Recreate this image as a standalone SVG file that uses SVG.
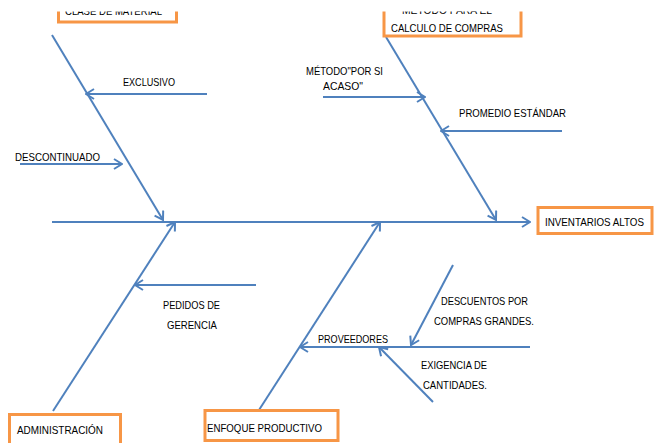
<svg xmlns="http://www.w3.org/2000/svg" width="655" height="443" viewBox="0 0 655 443">
  <style>
    .bone { stroke: #4F81BD; stroke-width: 2; fill: none; }
    .arrow { marker-end: url(#head); }
    .box { fill: #FFFFFF; stroke: #F79646; stroke-width: 3; }
    .lbl { font-family: "Liberation Sans", Arial, sans-serif; font-size: 11.5px; fill: #000000; }
  </style>
  <defs>
    <marker id="head" viewBox="0 0 10 12" markerWidth="10" markerHeight="12" refX="9" refY="6" orient="auto" markerUnits="userSpaceOnUse">
      <path d="M1,1 L9,6 L1,11" fill="none" stroke="#4F81BD" stroke-width="2"/>
    </marker>
  </defs>
  <rect width="655" height="443" fill="#FFFFFF"/>

  <g id="connectors">
    <!-- spine -->
    <line class="bone arrow" x1="52" y1="222" x2="530" y2="222"/>
    <!-- main bones -->
    <line class="bone arrow" x1="52" y1="35" x2="163" y2="220"/>
    <line class="bone arrow" x1="386" y1="37" x2="496" y2="220"/>
    <line class="bone arrow" x1="53" y1="411" x2="175" y2="222"/>
    <line class="bone arrow" x1="259" y1="410" x2="380" y2="222"/>
    <!-- sub-causes -->
    <line class="bone arrow" x1="207" y1="94" x2="86" y2="94"/>
    <line class="bone arrow" x1="20" y1="164" x2="122" y2="164"/>
    <line class="bone arrow" x1="323" y1="97" x2="425" y2="97"/>
    <line class="bone arrow" x1="562" y1="131" x2="441" y2="131"/>
    <line class="bone arrow" x1="256" y1="285" x2="135" y2="285"/>
    <line class="bone arrow" x1="530" y1="347" x2="300" y2="347"/>
    <line class="bone arrow" x1="453" y1="265" x2="411" y2="345"/>
    <line class="bone arrow" x1="433" y1="402" x2="379" y2="347"/>
  </g>

  <g id="clase-material">
    <rect class="box" x="58.5" y="-10" width="118" height="32"/>
    <text class="lbl" x="65" y="14.5" textLength="97" lengthAdjust="spacingAndGlyphs">CLASE DE MATERIAL</text>
  </g>
  <g id="metodo-calculo">
    <rect class="box" x="384" y="-10" width="137" height="46"/>
    <text class="lbl" x="402" y="13.5" textLength="90" lengthAdjust="spacingAndGlyphs">MÉTODO PARA EL</text>
    <text class="lbl" x="391" y="31.5" textLength="112" lengthAdjust="spacingAndGlyphs">CALCULO DE COMPRAS</text>
  </g>
  <!-- top edge of the sheet -->
  <rect x="0" y="0" width="655" height="11.5" fill="#FFFFFF"/>

  <g id="inventarios-altos">
    <rect class="box" x="538" y="207.5" width="114" height="26"/>
    <text class="lbl" x="545" y="226" style="font-size:10.5px" textLength="99" lengthAdjust="spacingAndGlyphs">INVENTARIOS ALTOS</text>
  </g>
  <g id="administracion">
    <rect class="box" x="9.5" y="414.5" width="111" height="40"/>
    <text class="lbl" x="17" y="434" textLength="86" lengthAdjust="spacingAndGlyphs">ADMINISTRACIÓN</text>
  </g>
  <g id="enfoque-productivo">
    <rect class="box" x="205" y="410.5" width="133" height="30"/>
    <text class="lbl" x="207" y="431.5" textLength="115" lengthAdjust="spacingAndGlyphs">ENFOQUE PRODUCTIVO</text>
  </g>

  <g id="exclusivo">
    <text class="lbl" x="123" y="86" textLength="52" lengthAdjust="spacingAndGlyphs">EXCLUSIVO</text>
  </g>
  <g id="descontinuado">
    <text class="lbl" x="15" y="161" textLength="85" lengthAdjust="spacingAndGlyphs">DESCONTINUADO</text>
  </g>
  <g id="metodo-por-si-acaso">
    <text class="lbl" x="306" y="75" textLength="77" lengthAdjust="spacingAndGlyphs">MÉTODO"POR SI</text>
    <text class="lbl" x="323" y="90" textLength="40" lengthAdjust="spacingAndGlyphs">ACASO"</text>
  </g>
  <g id="promedio-estandar">
    <text class="lbl" x="459" y="117" textLength="107" lengthAdjust="spacingAndGlyphs">PROMEDIO ESTÁNDAR</text>
  </g>
  <g id="pedidos-gerencia">
    <text class="lbl" x="163" y="309" textLength="57" lengthAdjust="spacingAndGlyphs">PEDIDOS DE</text>
    <text class="lbl" x="167" y="329" textLength="50" lengthAdjust="spacingAndGlyphs">GERENCIA</text>
  </g>
  <g id="proveedores">
    <text class="lbl" x="318" y="342.5" textLength="70" lengthAdjust="spacingAndGlyphs">PROVEEDORES</text>
  </g>
  <g id="descuentos">
    <text class="lbl" x="441" y="305" textLength="87" lengthAdjust="spacingAndGlyphs">DESCUENTOS POR</text>
    <text class="lbl" x="434" y="325" textLength="100" lengthAdjust="spacingAndGlyphs">COMPRAS GRANDES.</text>
  </g>
  <g id="exigencia">
    <text class="lbl" x="421" y="369" textLength="66" lengthAdjust="spacingAndGlyphs">EXIGENCIA DE</text>
    <text class="lbl" x="423" y="389" textLength="64" lengthAdjust="spacingAndGlyphs">CANTIDADES.</text>
  </g>
</svg>
